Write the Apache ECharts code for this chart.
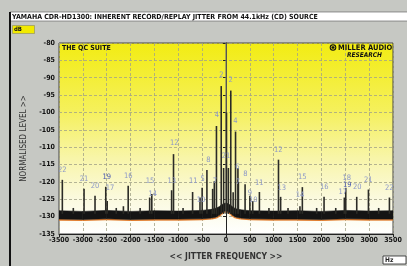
<!DOCTYPE html>
<html>
<head>
<meta charset="utf-8">
<script src="https://cdn.jsdelivr.net/npm/echarts@6/dist/echarts.min.js"></script>
<style>
  html, body { margin: 0; padding: 0; background: #c6c8c3; }
  #chart { width: 407px; height: 266px; }
</style>
</head>
<body>
<div id="chart"></div>
<script>
// tick values
const freqTicks = [-3500, 3500, 500];
const levelTicks = [-135, -80, 5];

// jitter sidebands: offset (Hz) and peak level (dB)
const spikeFreq = [-3430, -3200, -2975, -2745, -2520, -2490, -2300, -2150, -2050, -1800, -1600, -1555, -1140, -1100, -900,
  -700, -545, -500, -400, -280, -245, -200, -100, -50, 0, 10, 50, 100, 150, 200, 250, 260,
  400, 500, 560, 700, 900, 1100, 1145, 1300, 1550, 1600, 1900, 2055, 2300, 2480, 2510, 2740, 2985, 3200, 3425];
const spikeLevel = [-119.4, -127.5, -122.0, -124.0, -121.4, -125.5, -127.5, -127.0, -121.1, -127.5, -124.5, -123.5, -122.4, -112.0, -127.5,
  -122.9, -124.5, -121.7, -116.6, -122.0, -119.8, -103.9, -92.4, -116.0, -80, -100.0, -116.0, -93.7, -123.0, -105.5, -116.0, -120.0,
  -120.7, -124.0, -125.5, -122.9, -127.5, -113.6, -124.3, -127.5, -127.0, -121.5, -127.5, -124.3, -127.5, -124.5, -121.7, -124.3, -122.2, -127.5, -124.5];

// noise floor band
const noiseFreq = [-3500, -3000, -2500, -2000, -1500, -1000, -500, -300, -200, -150, -100, -50, 0, 50, 100, 150, 200, 300, 500, 1000, 1500, 2000, 2500, 3000, 3500];
const noiseHigh = [-128.3, -128.5, -128.2, -128.5, -128.3, -128.4, -128.2, -127.9, -127.5, -127.2, -126.7, -126.2, -126.1, -126.3, -126.8, -127.3, -127.7, -128.0, -128.3, -128.4, -128.3, -128.5, -128.2, -128.4, -128.3];
const noiseLow = [-130.7, -130.8, -130.6, -130.8, -130.7, -130.7, -130.6, -130.4, -130.1, -129.7, -129.1, -128.5, -128.3, -128.5, -129.1, -129.7, -130.1, -130.4, -130.6, -130.7, -130.7, -130.8, -130.6, -130.7, -130.7];

// harmonic numbers printed over the sidebands
const labelText = ['22', '21', '20', '19', '17', '16', '15', '14', '12', '13', '11', '5', '10', '8', '7', '4', '2', '21',
  '2', '4', '6', '7', '8', '9', '10', '11', '12', '13', '15', '14', '16', '18', '19', '17', '20', '21', '22'];
const labelFreq = [-3431, -2976, -2746, -2500, -2431, -2048, -1593, -1536, -1084, -1138, -685, -488, -524, -371, -231, -189, -98, 0,
  98, 195, 237, 251, 405, 503, 573, 699, 1096, 1167, 1600, 1551, 2061, 2530, 2543, 2446, 2752, 2983, 3423];
const labelLevel = [-116.6, -119.2, -121.2, -118.7, -121.9, -118.2, -119.8, -123.6, -108.9, -119.8, -119.8, -119.2, -125.2, -113.8, -119.8, -100.8, -89.3, -112.6,
  -90.6, -102.4, -115.6, -120.1, -117.7, -123.1, -125.2, -120.3, -110.8, -121.9, -118.6, -123.8, -121.4, -118.9, -121.0, -122.9, -121.5, -119.6, -121.8];

const FLOOR = -129.2;
const axisFont = '"Liberation Sans Narrow", "DejaVu Sans Condensed", sans-serif';

const chart = echarts.init(document.getElementById('chart'), null, { renderer: 'canvas' });

const option = {
  backgroundColor: '#c6c8c3',
  animation: false,
  grid: {
    left: 59, right: 14, top: 43, bottom: 27,
    show: true,
    borderColor: '#444',
    borderWidth: 1,
    backgroundColor: new echarts.graphic.LinearGradient(0, 0, 0, 1, [
      { offset: 0, color: '#f2ec12' },
      { offset: 0.35, color: '#f5f05a' },
      { offset: 0.6, color: '#f8f5a8' },
      { offset: 0.82, color: '#fbfae0' },
      { offset: 1, color: '#ffffff' }
    ])
  },
  xAxis: {
    type: 'value',
    min: freqTicks[0], max: freqTicks[1], interval: freqTicks[2],
    name: '<< JITTER FREQUENCY >>',
    nameLocation: 'middle',
    nameGap: 18,
    nameTextStyle: { fontFamily: axisFont, fontWeight: 'bold', fontSize: 8.5, color: '#333' },
    axisLine: { lineStyle: { color: '#222', width: 1 } },
    axisTick: { show: true, length: 3, lineStyle: { color: '#222' } },
    axisLabel: { fontFamily: axisFont, fontWeight: 'bold', fontSize: 7, color: '#111', margin: 3,
      formatter: v => String(v) },
    splitLine: { show: true, lineStyle: { color: '#a2a288', type: [3, 2], width: 0.8 } }
  },
  yAxis: {
    type: 'value',
    min: levelTicks[0], max: levelTicks[1], interval: levelTicks[2],
    name: 'NORMALISED LEVEL >>',
    nameLocation: 'middle',
    nameGap: 31,
    nameTextStyle: { fontFamily: axisFont, fontSize: 8, color: '#333' },
    axisLine: { show: true, lineStyle: { color: '#222', width: 1 } },
    axisTick: { show: true, length: 3, lineStyle: { color: '#222' } },
    axisLabel: { fontFamily: axisFont, fontWeight: 'bold', fontSize: 7, color: '#111', margin: 4 },
    splitLine: { show: true, lineStyle: { color: '#a2a288', type: [3, 2], width: 0.8 } }
  },
  series: [
    {
      name: 'noise',
      type: 'custom',
      clip: true,
      data: noiseFreq.map((f, i) => [f, noiseLow[i], noiseHigh[i]]),
      renderItem: function (params, api) {
        const i = params.dataIndex;
        if (i >= noiseFreq.length - 1) return null;
        const a0 = api.coord([noiseFreq[i], noiseHigh[i]]);
        const a1 = api.coord([noiseFreq[i + 1], noiseHigh[i + 1]]);
        const b1 = api.coord([noiseFreq[i + 1], noiseLow[i + 1]]);
        const b0 = api.coord([noiseFreq[i], noiseLow[i]]);
        return {
          type: 'group',
          children: [
            { type: 'polyline', shape: { points: [[b0[0], b0[1] + 0.8], [b1[0], b1[1] + 0.8]] },
              style: { stroke: '#e07a2a', lineWidth: 1.6 } },
            { type: 'polygon', shape: { points: [a0, a1, b1, b0] },
              style: { fill: '#141414', stroke: '#141414', lineWidth: 0.6 } }
          ]
        };
      },
      z: 2
    },
    {
      name: 'sidebands',
      type: 'custom',
      clip: true,
      data: spikeFreq.map((f, i) => [f, spikeLevel[i]]),
      renderItem: function (params, api) {
        const f = api.value(0);
        const top = api.value(1);
        const p0 = api.coord([f, FLOOR]);
        const p1 = api.coord([f, top]);
        const carrier = top >= -80;
        return {
          type: 'line',
          shape: { x1: p0[0], y1: p0[1], x2: p1[0], y2: p1[1] },
          style: { stroke: carrier ? '#7a7a70' : '#2b2b26', lineWidth: carrier ? 1.2 : 1.6 }
        };
      },
      z: 3
    },
    {
      name: 'harmonics',
      type: 'custom',
      clip: true,
      data: labelFreq.map((f, i) => [f, labelLevel[i], i]),
      renderItem: function (params, api) {
        const p = api.coord([api.value(0), api.value(1)]);
        const t = labelText[api.value(2)];
        return {
          type: 'text',
          x: p[0], y: p[1],
          style: {
            text: t,
            fill: t === '19' ? '#4656b0' : '#8c98c8',
            font: '7.5px ' + axisFont,
            align: 'center',
            verticalAlign: 'middle'
          }
        };
      },
      z: 4
    }
  ],
  graphic: [
    { type: 'rect', shape: { x: 10, y: 12, width: 400, height: 9 },
      style: { fill: '#ffffff', stroke: '#555', lineWidth: 0.6 }, z: 10 },
    { type: 'text', x: 12, y: 16.8,
      style: { text: 'YAMAHA CDR-HD1300: INHERENT RECORD/REPLAY JITTER FROM 44.1kHz (CD) SOURCE',
        font: 'bold 7px ' + axisFont, fill: '#111', verticalAlign: 'middle' }, z: 11 },
    { type: 'rect', shape: { x: 12.5, y: 25.5, width: 22, height: 8 },
      style: { fill: '#f2ea00', stroke: '#8a8a60', lineWidth: 0.6 }, z: 10 },
    { type: 'text', x: 14, y: 29.7,
      style: { text: 'dB', font: 'bold 6px ' + axisFont, fill: '#111', verticalAlign: 'middle' }, z: 11 },
    { type: 'line', shape: { x1: 10, y1: 12, x2: 10, y2: 266 },
      style: { stroke: '#111', lineWidth: 2 }, z: 10 },
    { type: 'text', x: 62, y: 48.5,
      style: { text: 'THE QC SUITE', font: 'bold 7px ' + axisFont, fill: '#111', verticalAlign: 'middle' }, z: 11 },
    { type: 'circle', shape: { cx: 333, cy: 47.5, r: 3.3 },
      style: { fill: '#111' }, z: 11 },
    { type: 'circle', shape: { cx: 333, cy: 47.5, r: 1.8 },
      style: { fill: 'none', stroke: '#f2ec12', lineWidth: 0.8 }, z: 12 },
    { type: 'text', x: 338, y: 47.8,
      style: { text: 'MILLER AUDIO', font: 'bold 7.5px ' + axisFont, fill: '#111', verticalAlign: 'middle' }, z: 11 },
    { type: 'text', x: 382, y: 55,
      style: { text: 'RESEARCH', font: 'italic bold 6.5px ' + axisFont, fill: '#111', align: 'right', verticalAlign: 'middle' }, z: 11 },
    { type: 'rect', shape: { x: 383, y: 256, width: 23, height: 8 },
      style: { fill: '#ffffff', stroke: '#222', lineWidth: 0.8 }, z: 10 },
    { type: 'text', x: 385, y: 260.3,
      style: { text: 'Hz', font: 'bold 6.5px ' + axisFont, fill: '#222', verticalAlign: 'middle' }, z: 11 }
  ]
};

chart.setOption(option);
</script>
</body>
</html>
